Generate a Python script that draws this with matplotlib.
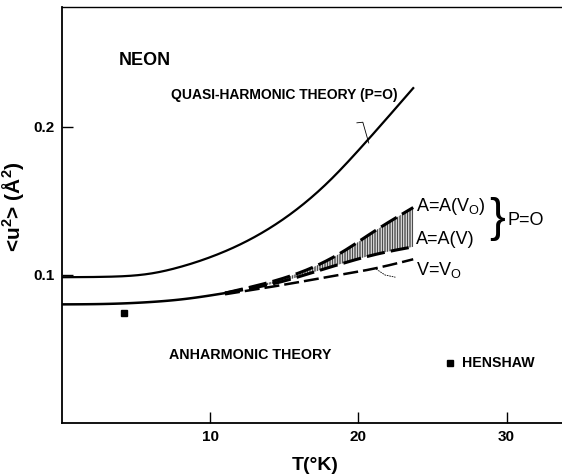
import matplotlib
matplotlib.use("Agg")
import matplotlib.pyplot as plt
import numpy as np

# Data
T_quasi = [0, 3, 6, 8, 10, 12, 14, 16, 18, 20, 22, 23.7]
u_quasi = [0.0985, 0.0988, 0.1010, 0.1055, 0.1120, 0.1205, 0.1315, 0.1455, 0.1630, 0.1840, 0.2065, 0.2260]

T_anh = [0, 3, 6, 8, 10, 11]
u_anh = [0.0802, 0.0805, 0.0818, 0.0835, 0.0862, 0.0878]

T_branch = [11, 13, 15, 17, 19, 21, 23.7]
u_AV0 = [0.0878, 0.0925, 0.0980, 0.1055, 0.1160, 0.1290, 0.1455]
u_AV = [0.0878, 0.0915, 0.0960, 0.1020, 0.1080, 0.1135, 0.1190]
u_VV0 = [0.0870, 0.0902, 0.0935, 0.0970, 0.1005, 0.1042, 0.1106]

T_henshaw = [4.2]
u_henshaw = [0.0746]

xticks = [10, 20, 30]
xtick_labels = ["10", "20", "30"]
yticks = [0.1, 0.2]
ytick_labels = ["0.1", "0.2"]

FONT = "Liberation Sans"
plt.rcParams['font.family'] = [FONT, 'DejaVu Sans']
plt.rcParams['mathtext.default'] = 'regular'
plt.rcParams['hatch.linewidth'] = 0.5


def spline(x, y, n=200):
    """Natural cubic spline through the given points (for a smooth drawn curve)."""
    x = np.asarray(x, float); y = np.asarray(y, float)
    m = len(x)
    h = np.diff(x)
    A = np.zeros((m, m)); b = np.zeros(m)
    A[0, 0] = A[-1, -1] = 1
    for i in range(1, m - 1):
        A[i, i - 1] = h[i - 1]; A[i, i] = 2 * (h[i - 1] + h[i]); A[i, i + 1] = h[i]
        b[i] = 3 * ((y[i + 1] - y[i]) / h[i] - (y[i] - y[i - 1]) / h[i - 1])
    c = np.linalg.solve(A, b)
    xs = np.linspace(x[0], x[-1], n)
    idx = np.clip(np.searchsorted(x, xs) - 1, 0, m - 2)
    dx = xs - x[idx]
    hb = h[idx]
    bb = (y[idx + 1] - y[idx]) / hb - hb * (2 * c[idx] + c[idx + 1]) / 3
    d = (c[idx + 1] - c[idx]) / (3 * hb)
    ys = y[idx] + bb * dx + c[idx] * dx ** 2 + d * dx ** 3
    return xs, ys


fig = plt.figure(figsize=(5.62, 4.75), dpi=100)
ax = fig.add_axes([0.1103, 0.1088, 0.8897, 0.8765])
ax.set_xlim(0, 33.74)
ax.set_ylim(0, 0.2807)

xq, yq = spline(T_quasi, u_quasi)
ax.plot(xq, yq, color='black', lw=1.6)

xa, ya = spline(T_anh, u_anh, 80)
ax.plot(xa, ya, color='black', lw=1.8)

xb, y1 = spline(T_branch, u_AV0)
_, y2 = spline(T_branch, u_AV)
_, y3 = spline(T_branch, u_VV0)
dash = (0, (6, 2))
ax.plot(xb, y1, color='black', lw=2.2, linestyle=dash)
ax.plot(xb, y2, color='black', lw=2.2, linestyle=dash)
ax.plot(xb, y3, color='black', lw=1.8, linestyle=dash)
mask = xb >= 13.5
ax.fill_between(xb[mask], y2[mask], y1[mask], facecolor='none', edgecolor='black',
                hatch='|' * 10, linewidth=0)

ax.plot(T_henshaw, u_henshaw, marker='s', color='black', markersize=5, linestyle='none')

# small leader marks
ax.plot([19.9, 20.3, 20.7], [0.2026, 0.2030, 0.1890], color='black', lw=0.6)
ax.plot([21.2, 21.8, 22.5], [0.1040, 0.1000, 0.0985], color='black', lw=0.6, linestyle=(0, (2, 1)))

# ticks and spines
ax.set_xticks(xticks)
ax.set_xticklabels(xtick_labels)
ax.set_yticks(yticks)
ax.set_yticklabels(ytick_labels)
ax.tick_params(direction='in', length=8, width=1.0, labelsize=11, pad=5)
for lab in ax.get_xticklabels() + ax.get_yticklabels():
    lab.set_fontweight('bold')
ax.spines['right'].set_visible(False)
for s in ['left', 'bottom']:
    ax.spines[s].set_linewidth(1.3)
ax.spines['top'].set_linewidth(1.0)

ax.set_xlabel("T(°K)", fontsize=14, fontweight='bold')
ax.xaxis.set_label_coords((316 - 62.7) / 499.3, (423.3 - 457) / 416.3)
ax.set_ylabel("<u$^2$> (Å$^2$)", fontsize=15, fontweight='bold')
ax.yaxis.set_label_coords((27 - 62.7) / 499.3, (423.3 - 207) / 416.3)


def at(px, py):
    return ((px - 62.7) / 14.8, (423.3 - py) / 1483.0)


tkw = dict(color='black', fontweight='bold')
ax.text(*at(145, 61), "NEON", fontsize=13, ha='center', va='center', **tkw)
ax.text(*at(171.7, 95), "QUASI-HARMONIC THEORY (P=O)", fontsize=10, ha='left', va='center', **tkw)
ax.text(*at(170, 355), "ANHARMONIC THEORY", fontsize=10.3, ha='left', va='center', **tkw)
ax.text(*at(461.7, 363.3), "HENSHAW", fontsize=10.2, ha='left', va='center', **tkw)
hx, hy = at(450, 362.7)
ax.plot([hx], [hy], marker='s', color='black', markersize=4.5, linestyle='none')

ax.text(*at(416.7, 206.7), "A=A(V$_{O}$)", fontsize=13, ha='left', va='center', color='black')
ax.text(*at(416.7, 240), "A=A(V)", fontsize=13, ha='left', va='center', color='black')
ax.text(*at(416.7, 270), "V=V$_{O}$", fontsize=13, ha='left', va='center', color='black')
ax.text(*at(507.5, 221), "P=O", fontsize=13, ha='left', va='center', color='black')
ax.text(*at(497, 219), "}", fontsize=34, ha='center', va='center', color='black',
        fontweight='light', family='Liberation Sans')

fig.savefig("out.png", dpi=100)
